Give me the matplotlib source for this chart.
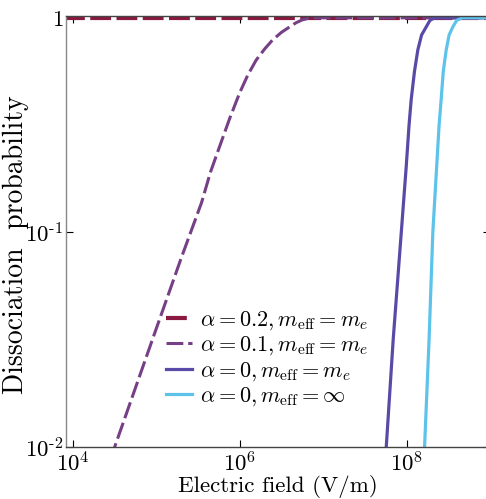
import numpy as np
import matplotlib
matplotlib.use('Agg')
import matplotlib.pyplot as plt

plt.rcParams['font.family'] = 'serif'
plt.rcParams['font.serif'] = ['cmr10', 'DejaVu Serif']
plt.rcParams['mathtext.fontset'] = 'cm'
plt.rcParams['axes.formatter.use_mathtext'] = True

# values (log10 of field, log10 of probability)
logE_a02 = [3.9, 9.0]
logP_a02 = [0.0, 0.0]

logE_a01 = [4.22, 4.503, 5.0, 5.30, 5.545, 5.65, 5.76, 5.88, 6.0, 6.10, 6.20, 6.30,
            6.395, 6.50, 6.60, 6.68, 6.754, 6.85, 9.0]
logP_a01 = [-2.31, -2.0, -1.45, -1.12, -0.86, -0.72, -0.60, -0.47, -0.35, -0.265, -0.196, -0.145,
            -0.103, -0.068, -0.042, -0.022, -0.009, 0.0, 0.0]

logP_steep = [-2.3, -2.0, -1.5, -1.0, -0.7, -0.5, -0.38, -0.25, -0.15, -0.08, -0.042, -0.012, 0.0, 0.0]
logE_a0 = [7.715, 7.757, 7.84, 7.937, 7.995, 8.03, 8.056, 8.095, 8.135, 8.18, 8.236, 8.28, 8.335, 9.0]
logE_inf = [8.18, 8.216, 8.27, 8.315, 8.36, 8.39, 8.415, 8.44, 8.475, 8.51, 8.555, 8.60, 8.665, 9.0]

labels = [r'$\alpha = 0.2, m_{\rm eff} = m_e$',
          r'$\alpha = 0.1, m_{\rm eff} = m_e$',
          r'$\alpha = 0, m_{\rm eff} = m_e$',
          r'$\alpha = 0, m_{\rm eff} = \infty$']

fig = plt.figure(figsize=(4.86, 4.99), dpi=100)
ax = fig.add_axes([66 / 486, 52 / 499, 424 / 486, 431 / 499])

ax.plot(10 ** np.array(logE_a02), 10 ** np.array(logP_a02), color='#8a1840',
        lw=3.0, dashes=(5, 1.3), label=labels[0])
ax.plot(10 ** np.array(logE_a01), 10 ** np.array(logP_a01), color='#763f86',
        lw=2.2, dashes=(5.5, 1.6), label=labels[1])
ax.plot(10 ** np.array(logE_a0), 10 ** np.array(logP_steep), color='#5a4aa8',
        lw=2.3, label=labels[2])
ax.plot(10 ** np.array(logE_inf), 10 ** np.array(logP_steep), color='#5ec3ea',
        lw=2.3, label=labels[3])

ax.set_xscale('log')
ax.set_yscale('log')
ax.set_xlim(10 ** 3.92, 1e9)
ax.set_ylim(1e-2, 1.02)

ax.set_xticks([1e4, 1e6, 1e8])
ax.set_xticklabels([r'$10^4$', r'$10^6$', r'$10^8$'])
ax.set_yticks([1e-2, 1e-1, 1])
ax.set_yticklabels([r'$10^{\text{-}2}$', r'$10^{\text{-}1}$', r'$1$'])
ax.minorticks_off()
ax.tick_params(direction='in', top=True, right=True, length=5, width=0.8,
               labelsize=16.5, pad=2)
ax.tick_params(axis='x', pad=3)

for s in ax.spines.values():
    s.set_color('#444444')
    s.set_linewidth(1.0)
ax.spines['left'].set_color('#888888')

ax.set_xlabel('Electric field (V/m)', fontsize=16.5, labelpad=0)
ax.set_ylabel('Dissociation  probability', fontsize=20)
ax.yaxis.set_label_coords(-0.088, 0.47)

ax.legend(loc='lower left', bbox_to_anchor=(0.235, 0.09), frameon=False,
          fontsize=16, handlelength=1.2, handletextpad=0.35,
          labelspacing=0.12, borderpad=0, borderaxespad=0)

fig.savefig('out.png', dpi=100)
